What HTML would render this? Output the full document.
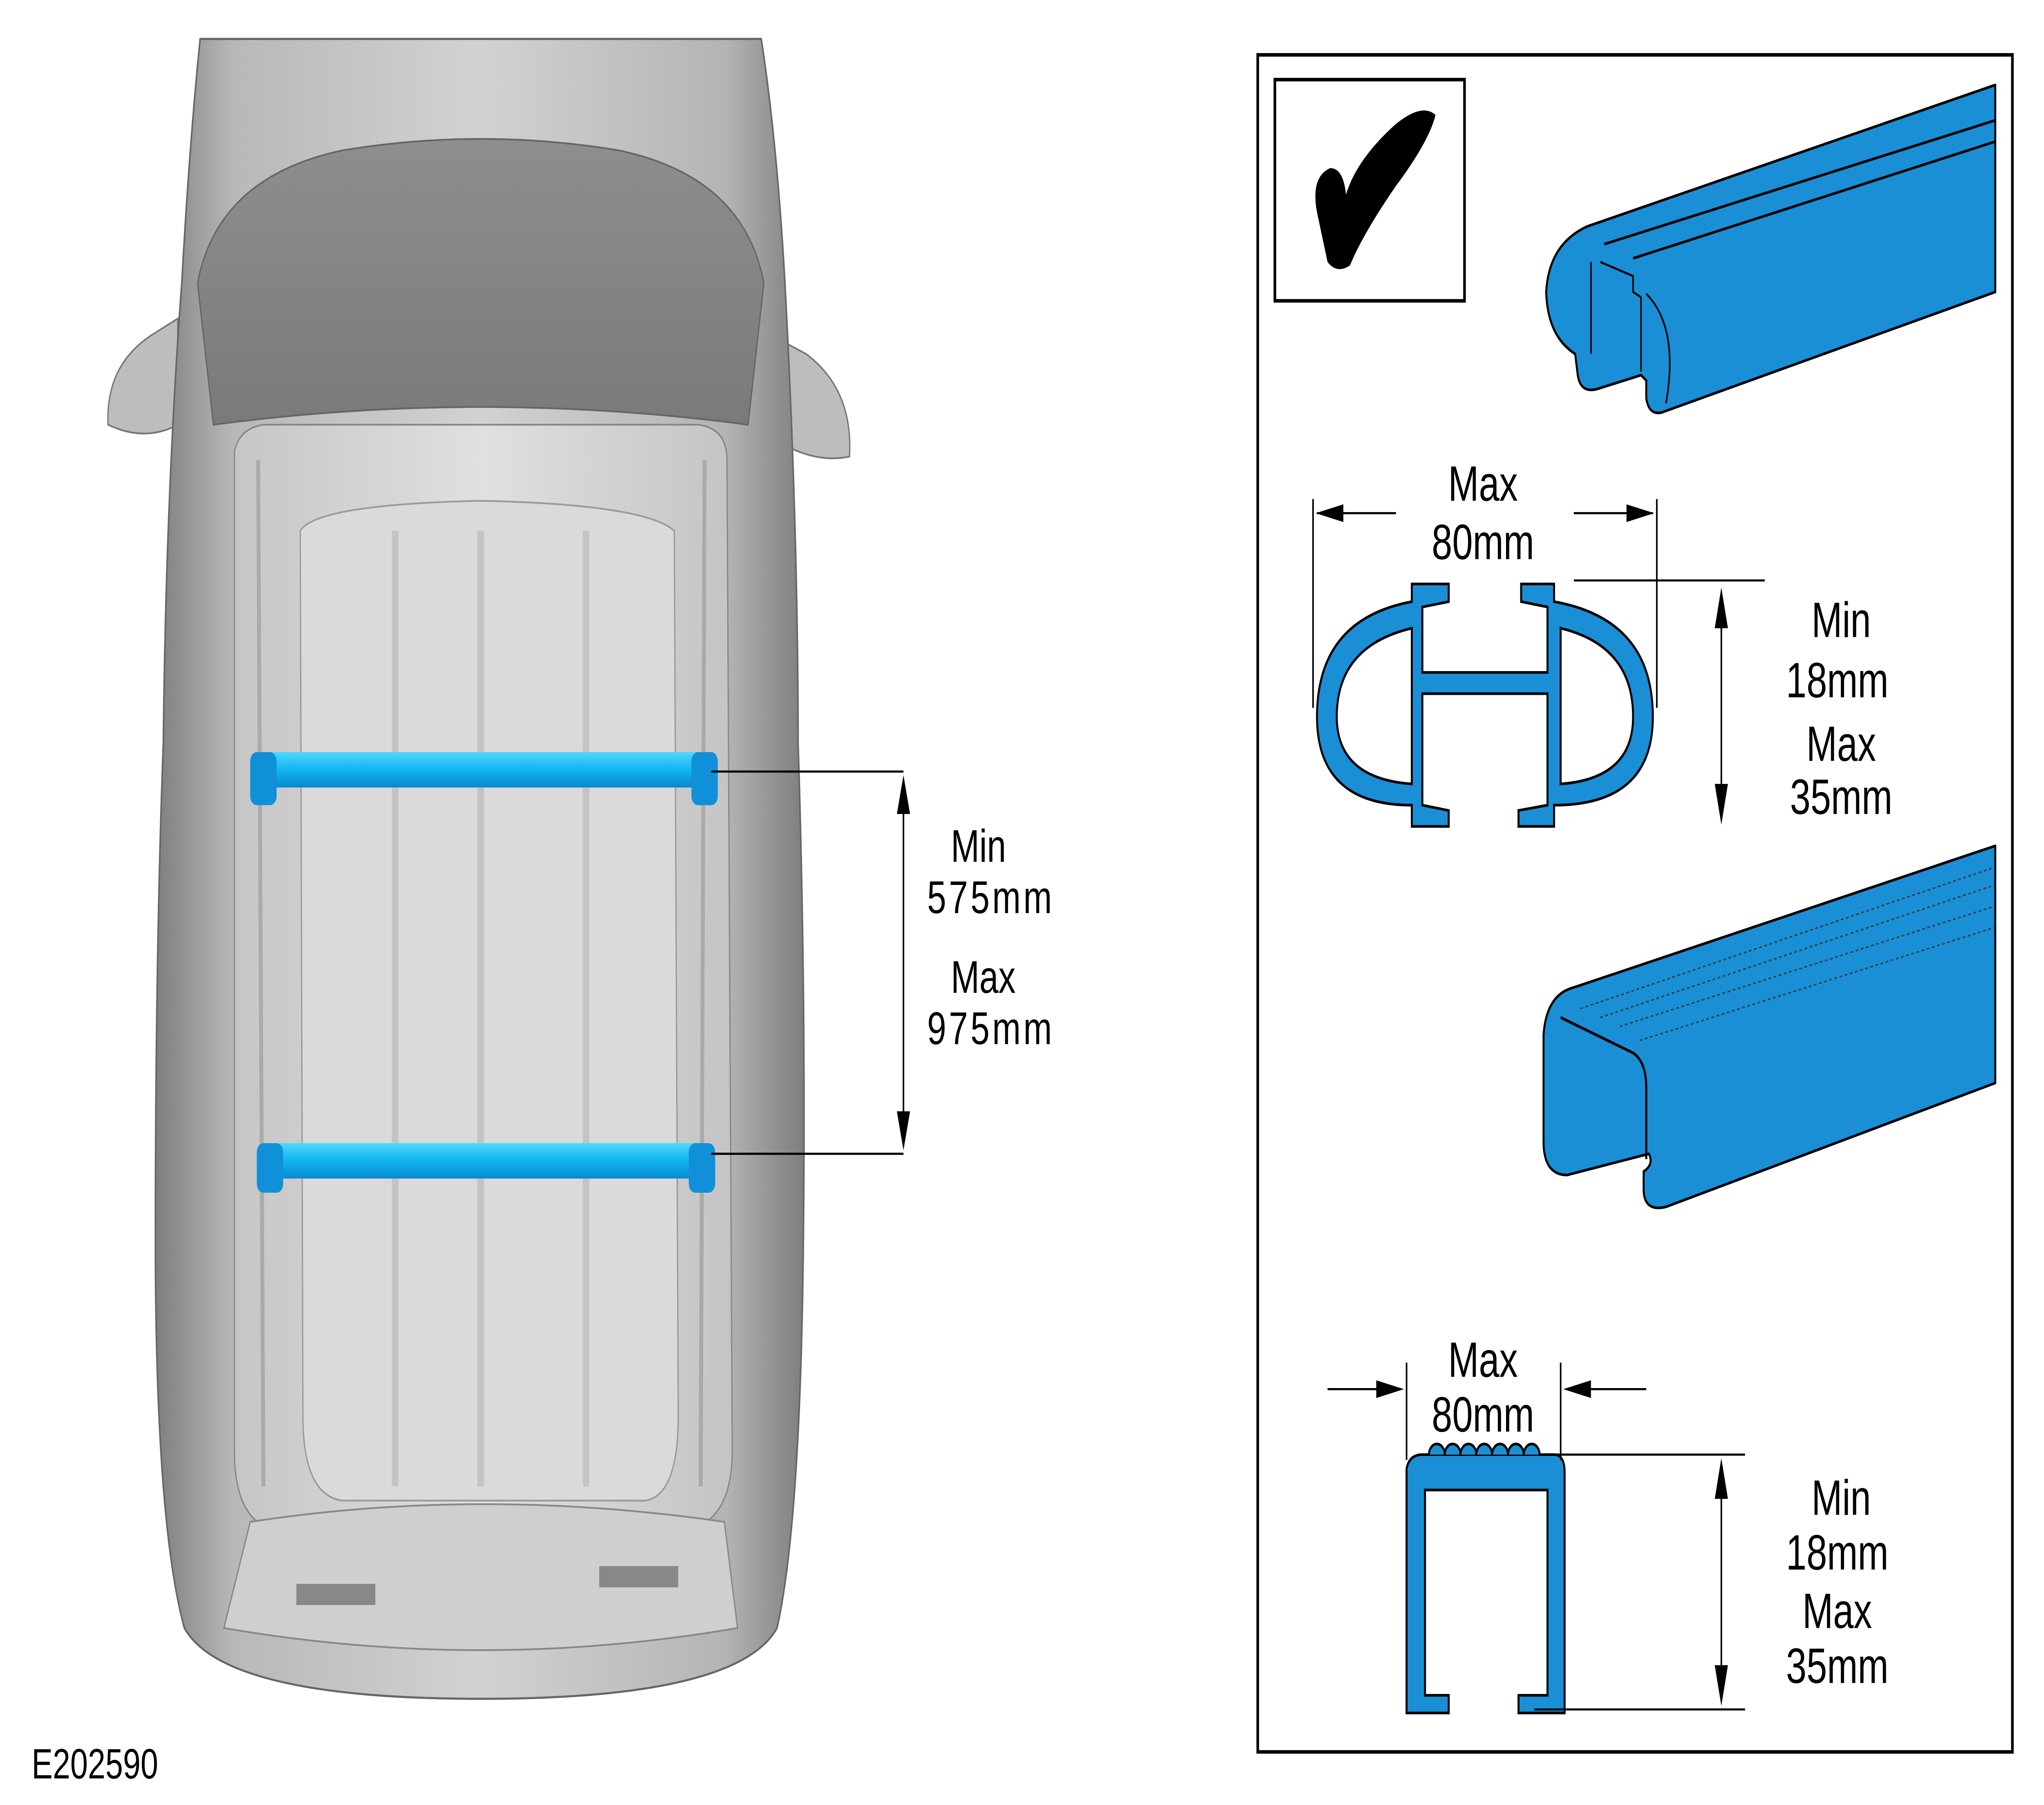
<!DOCTYPE html>
<html><head><meta charset="utf-8"><style>
html,body{margin:0;padding:0;background:#fff;overflow:hidden;width:100vw;height:100vh;}
svg{display:block;width:100vw;height:100vh;}
text{font-family:"Liberation Sans","DejaVu Sans",sans-serif;fill:#000;}
</style></head><body>
<svg viewBox="0 0 1552 1020" preserveAspectRatio="none" xmlns="http://www.w3.org/2000/svg">
<defs>
<linearGradient id="body" x1="0" x2="1" y1="0" y2="0">
<stop offset="0" stop-color="#7e7e7e"/><stop offset="0.12" stop-color="#b8b8b8"/><stop offset="0.5" stop-color="#d2d2d2"/><stop offset="0.88" stop-color="#b4b4b4"/><stop offset="1" stop-color="#7e7e7e"/>
</linearGradient>
<linearGradient id="wind" x1="0" x2="0" y1="0" y2="1">
<stop offset="0" stop-color="#8e8e8e"/><stop offset="1" stop-color="#7a7a7a"/>
</linearGradient>
<linearGradient id="roof" x1="0" x2="1" y1="0" y2="0">
<stop offset="0" stop-color="#c6c6c6"/><stop offset="0.5" stop-color="#e0e0e0"/><stop offset="1" stop-color="#c4c4c4"/>
</linearGradient>
<linearGradient id="bar" x1="0" x2="0" y1="0" y2="1">
<stop offset="0" stop-color="#50d8ff"/><stop offset="0.5" stop-color="#10b4f0"/><stop offset="1" stop-color="#0a88d0"/>
</linearGradient>
</defs>
<rect width="1552" height="1020" fill="#fff"/>
<!-- car -->
<path d="M82,240 Q80,205 118,188 L135,180 L135,240 Q110,250 82,240 Z" fill="#bdbdbd" stroke="#777" stroke-width="1"/>
<path d="M645,258 Q648,220 612,200 L592,192 L592,250 Q620,262 645,258 Z" fill="#bdbdbd" stroke="#777" stroke-width="1"/>
<path d="M152,22 L578,22 Q590,80 596,160 Q606,300 606,420 Q612,560 610,700 Q608,860 590,920 Q560,960 365,960 Q170,960 140,920 Q118,860 118,700 Q118,540 124,420 Q126,280 138,160 Q144,80 152,22 Z" fill="url(#body)" stroke="#666" stroke-width="1.2"/>
<path d="M150,160 Q165,100 260,85 Q365,72 470,85 Q565,100 580,160 L568,240 Q365,220 162,240 Z" fill="url(#wind)" stroke="#666" stroke-width="1"/>
<path d="M178,255 Q182,242 200,240 L530,240 Q552,242 552,260 L556,820 Q556,860 520,865 L210,865 Q178,860 178,820 Z" fill="url(#roof)" stroke="#888" stroke-width="1"/>
<path d="M228,300 Q240,285 365,283 Q490,285 512,300 L515,800 Q515,845 490,848 L260,848 Q230,845 230,800 Z" fill="#dadada" stroke="#9a9a9a" stroke-width="1"/>
<line x1="300" y1="300" x2="300" y2="840" stroke="#c4c4c4" stroke-width="5"/>
<line x1="365" y1="300" x2="365" y2="840" stroke="#c4c4c4" stroke-width="5"/>
<line x1="445" y1="300" x2="445" y2="840" stroke="#c4c4c4" stroke-width="5"/>
<line x1="196" y1="260" x2="200" y2="840" stroke="#aaa" stroke-width="3"/>
<line x1="535" y1="260" x2="532" y2="840" stroke="#aaa" stroke-width="3"/>
<path d="M190,860 Q365,840 550,860 L560,920 Q365,945 170,920 Z" fill="#cfcfcf" stroke="#888" stroke-width="1"/>
<rect x="225" y="895" width="60" height="12" fill="#888"/>
<rect x="455" y="885" width="60" height="12" fill="#888"/>
<!-- bars -->
<rect x="190" y="425" width="355" height="20" rx="6" fill="url(#bar)"/>
<rect x="190" y="425" width="20" height="30" rx="5" fill="#1090d8"/>
<rect x="525" y="425" width="20" height="30" rx="5" fill="#1090d8"/>
<rect x="195" y="646" width="348" height="20" rx="6" fill="url(#bar)"/>
<rect x="195" y="646" width="20" height="28" rx="5" fill="#1090d8"/>
<rect x="523" y="646" width="20" height="28" rx="5" fill="#1090d8"/>
<!-- dimension -->
<g stroke="#000" stroke-width="1.2" fill="none">
<line x1="540" y1="436" x2="686" y2="436"/>
<line x1="540" y1="652" x2="686" y2="652"/>
<line x1="686" y1="446" x2="686" y2="642"/>
</g>
<path d="M686,438 L681,460 L691,460 Z M686,650 L681,628 L691,628 Z" fill="#000"/>
<text x="722" y="487" font-size="26">Min</text>
<text x="704" y="516" font-size="26" letter-spacing="2">575mm</text>
<text x="722" y="561" font-size="26">Max</text>
<text x="704" y="590" font-size="26" letter-spacing="2">975mm</text>
<text x="24" y="1005" font-size="24">E202590</text>
<!-- right panel -->
<rect x="955" y="31" width="573" height="959" fill="none" stroke="#000" stroke-width="2"/>
<rect x="968" y="45" width="144" height="125" fill="none" stroke="#000" stroke-width="2"/>
<path d="M1000,120 Q995,100 1010,95 Q1020,95 1022,110 Q1030,90 1060,70 Q1080,58 1090,65 Q1085,80 1060,105 Q1035,132 1025,150 Q1015,155 1008,148 Z" fill="#000"/>
<!-- bar 1 3d -->
<g stroke="#000" stroke-width="1.5" stroke-linejoin="round">
<path d="M1205,128 L1515,48 L1515,165 L1262,233 Q1252,235 1250,225 L1250,215 L1246,212 L1212,220 Q1200,222 1198,212 L1196,200 Q1175,190 1174,165 Q1176,138 1205,128 Z" fill="#1a8fd6"/>
<path d="M1218,138 L1515,68 M1240,146 L1515,80" fill="none"/>
<path d="M1208,148 L1208,200 M1215,148 L1240,156 L1240,165 L1246,168 L1246,210 M1250,166 Q1275,185 1265,228" fill="none" stroke-width="1.2"/>
</g>
<!-- cross section 1 -->
<g stroke="#000" stroke-width="1.5">
<path d="M1072,330 L1072,340 Q1000,350 1000,405 Q1000,455 1072,455 L1072,467 L1100,467 L1100,458 L1080,455 L1080,392 L1175,392 L1175,455 L1153,458 L1153,467 L1180,467 L1180,455 Q1255,455 1255,405 Q1255,350 1180,340 L1180,330 L1155,330 L1155,340 L1175,343 L1175,380 L1080,380 L1080,343 L1100,340 L1100,330 Z" fill="#1a8fd6"/>
<path d="M1072,355 Q1015,365 1015,405 Q1015,440 1072,443 Z M1185,355 Q1240,365 1240,405 Q1240,440 1185,443 Z" fill="#fff"/>
</g>
<g stroke="#000" stroke-width="1.2">
<line x1="997" y1="282" x2="997" y2="400"/><line x1="1258" y1="282" x2="1258" y2="400"/>
<line x1="1000" y1="290" x2="1060" y2="290"/><line x1="1195" y1="290" x2="1255" y2="290"/>
<line x1="1195" y1="328" x2="1340" y2="328"/>
<line x1="1307" y1="340" x2="1307" y2="460"/>
</g>
<path d="M999,290 L1020,285 L1020,295 Z M1256,290 L1235,285 L1235,295 Z M1307,332 L1302,355 L1312,355 Z M1307,466 L1302,443 L1312,443 Z" fill="#000"/>
<text x="1126" y="283" font-size="28" text-anchor="middle">Max</text>
<text x="1126" y="316" font-size="28" text-anchor="middle">80mm</text>
<text x="1398" y="360" font-size="28" text-anchor="middle">Min</text>
<text x="1395" y="394" font-size="28" text-anchor="middle">18mm</text>
<text x="1398" y="430" font-size="28" text-anchor="middle">Max</text>
<text x="1398" y="460" font-size="28" text-anchor="middle">35mm</text>
<!-- bar 2 3d -->
<g stroke="#000" stroke-width="1.5" stroke-linejoin="round">
<path d="M1195,558 L1515,478 L1515,612 L1265,682 Q1248,685 1248,672 L1248,662 Q1256,658 1252,652 L1190,664 Q1172,664 1172,645 L1172,585 Q1174,562 1195,558 Z" fill="#1a8fd6"/>
<path d="M1185,575 L1240,595 Q1250,600 1250,615 L1250,655" fill="none" stroke-width="1.6"/>
<path d="M1200,570 L1515,490 M1215,575 L1515,500 M1230,580 L1515,512 M1245,588 L1515,524" fill="none" stroke="#333" stroke-width="0.8" stroke-dasharray="2,2"/>
</g>
<!-- cross section 2 -->
<g stroke="#000" stroke-width="1.5">
<path d="M1068,830 Q1070,822 1080,822 L1180,822 Q1188,822 1188,832 L1188,968 L1153,968 L1153,958 L1175,958 L1175,842 L1082,842 L1082,958 L1100,958 L1100,968 L1068,968 Z" fill="#1a8fd6"/>
</g>
<path d="M1085,822 a6,6 0 0 1 12,0 a6,6 0 0 1 12,0 a6,6 0 0 1 12,0 a6,6 0 0 1 12,0 a6,6 0 0 1 12,0 a6,6 0 0 1 12,0 a6,6 0 0 1 12,0" fill="#1a8fd6" stroke="#000" stroke-width="1.5"/>
<g stroke="#000" stroke-width="1.2">
<line x1="1068" y1="770" x2="1068" y2="825"/><line x1="1185" y1="770" x2="1185" y2="825"/>
<line x1="1008" y1="785" x2="1050" y2="785"/><line x1="1205" y1="785" x2="1250" y2="785"/>
<line x1="1180" y1="822" x2="1325" y2="822"/>
<line x1="1165" y1="966" x2="1325" y2="966"/>
<line x1="1307" y1="830" x2="1307" y2="958"/>
</g>
<path d="M1066,785 L1045,780 L1045,790 Z M1187,785 L1208,780 L1208,790 Z M1307,824 L1302,847 L1312,847 Z M1307,964 L1302,941 L1312,941 Z" fill="#000"/>
<text x="1126" y="778" font-size="28" text-anchor="middle">Max</text>
<text x="1126" y="809" font-size="28" text-anchor="middle">80mm</text>
<text x="1398" y="856" font-size="28" text-anchor="middle">Min</text>
<text x="1395" y="887" font-size="28" text-anchor="middle">18mm</text>
<text x="1395" y="920" font-size="28" text-anchor="middle">Max</text>
<text x="1395" y="951" font-size="28" text-anchor="middle">35mm</text>
</svg>
</body></html>
